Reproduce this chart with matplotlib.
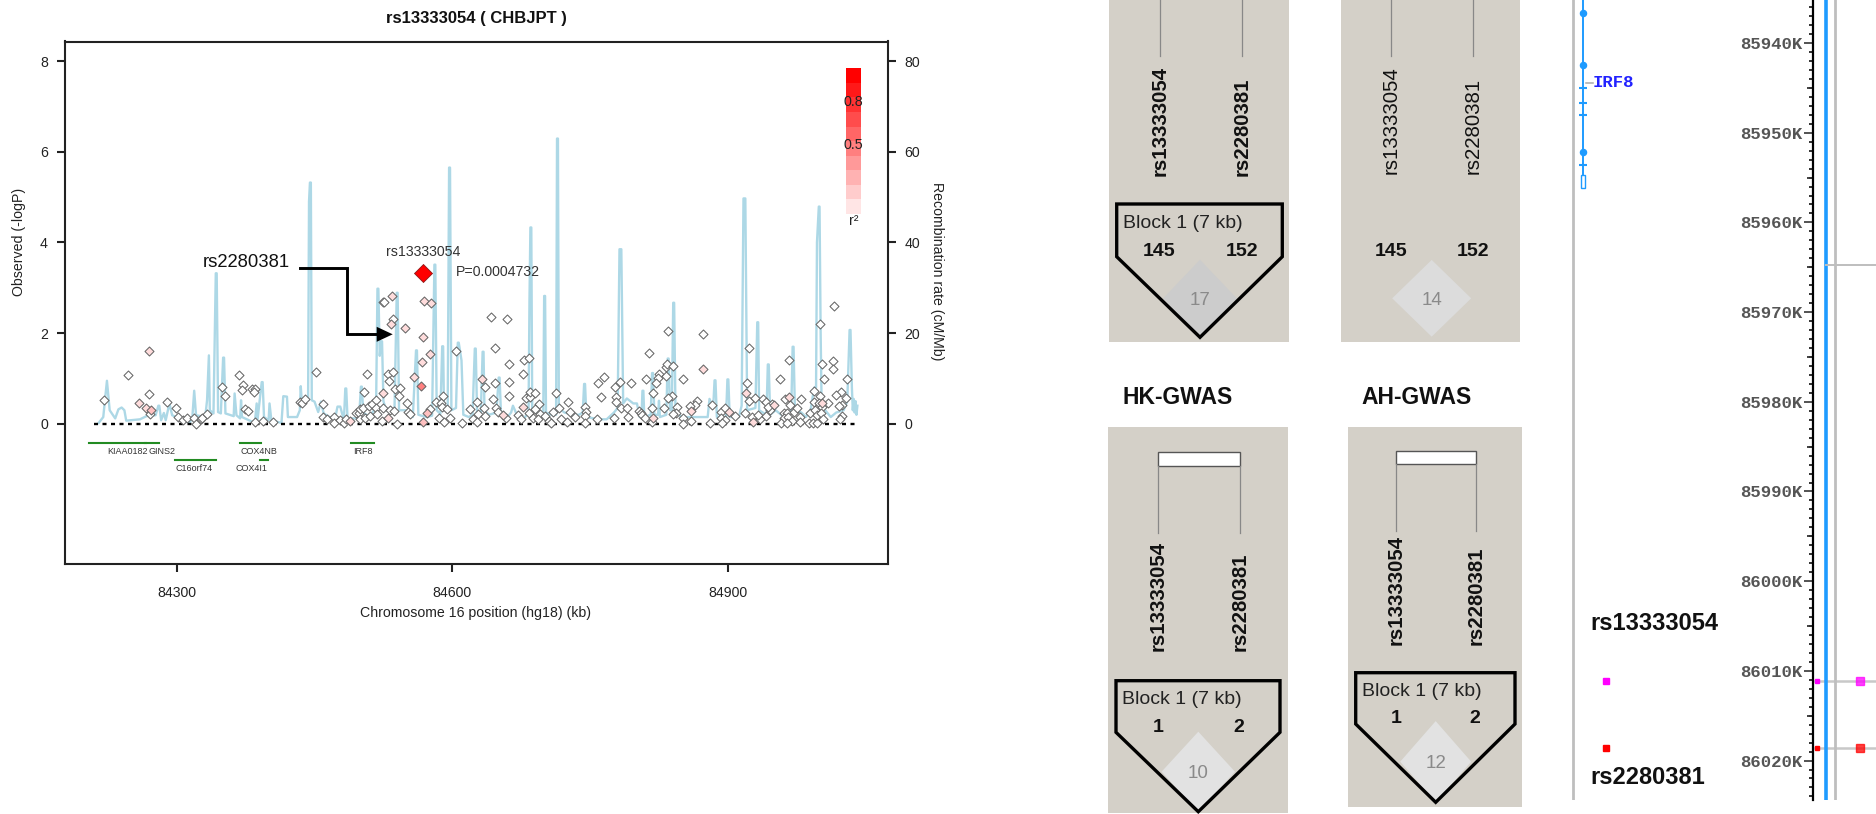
import matplotlib
matplotlib.use("Agg")
from matplotlib import pyplot as plt
from matplotlib.patches import Polygon, Rectangle

plt.rcParams["font.family"] = ["Liberation Sans", "DejaVu Sans"]

W, H = 1876, 814

# recombination rate track (kb, cM/Mb)
recomb_kb = [84215, 84220, 84224, 84227, 84233, 84236.5, 84240, 84243, 84245, 84260, 84267, 84277, 84280, 84281,
             84283, 84286, 84288, 84292, 84295, 84314, 84317, 84319, 84321, 84331, 84333, 84335, 84336, 84340,
             84342.5, 84343.5, 84345, 84348, 84350.5, 84351.5, 84353, 84362, 84363, 84365, 84369, 84370, 84371, 84385,
             84387, 84388, 84392.5, 84393.5, 84395, 84400, 84401, 84403, 84414, 84416, 84420, 84421, 84431, 84434,
             84435, 84436, 84443, 84444, 84445, 84446, 84447, 84450, 84454, 84457, 84460, 84472, 84475,
             84478, 84482, 84483.5, 84484.5, 84486, 84490, 84497, 84499, 84500.5, 84501.5, 84503, 84510, 84514, 84517,
             84518.5, 84519.5, 84521, 84522.5, 84523.5, 84525, 84528, 84533, 84537, 84539.5, 84540.5, 84542, 84550, 84557,
             84560.5, 84561.5, 84563, 84572, 84578, 84580.5, 84581.5, 84583, 84587, 84589, 84590, 84591, 84595, 84596.5,
             84597.5, 84599, 84604, 84606, 84607, 84610, 84612, 84618, 84622, 84624.5, 84625.5, 84627, 84631, 84633,
             84634, 84635, 84640, 84648, 84650.5, 84651.5, 84653, 84660, 84664, 84666, 84672, 84678, 84683, 84684,
             84685, 84686, 84687, 84695, 84699, 84700, 84701, 84702, 84708, 84713, 84714, 84715, 84716, 84722,
             84732, 84738, 84742, 84743.5, 84744.5, 84746, 84760, 84768, 84776, 84780, 84782, 84784, 84786, 84790,
             84797, 84801, 84804, 84806, 84807, 84808, 84809, 84816, 84817.5, 84818.5, 84820, 84824, 84825, 84826,
             84833, 84834.5, 84835.5, 84837, 84839, 84840.5, 84841.5, 84843, 84850, 84860, 84878, 84880, 84884, 84885.5,
             84886.5, 84888, 84898, 84899.5, 84900.5, 84902, 84912, 84915, 84917, 84919, 84921, 84930, 84932, 84933,
             84934, 84942, 84943.5, 84944.5, 84946, 84952, 84958, 84966, 84969, 84970.5, 84971.5, 84973, 84980, 84985,
             84990, 84994, 84996, 84997, 84999, 84999.8, 85001, 85002, 85006, 85012, 85018, 85026, 85030, 85032.5,
             85033.5, 85035, 85036, 85037, 85038, 85039, 85040, 85041]
recomb_rate = [0.2, 1.5, 9.5, 3.0, 1.2, 3.2, 3.6, 3.0, 0.7, 1.0, 1.7, 1.9, 4.0, 4.0,
               0.8, 2.4, 0.8, 4.5, 1.9, 0.2, 1.5, 7.3, 1.9, 1.5, 5.2, 15.1, 3.0, 2.3,
               33.2, 33.2, 2.6, 2.3, 14.6, 14.6, 2.3, 1.7, 6.7, 1.9, 1.2, 5.2, 1.5, 0.2,
               4.5, 1.0, 9.2, 9.2, 1.5, 0.8, 4.5, 0.8, 0.2, 6.1, 6.0, 1.5, 1.5, 3.0,
               8.3, 5.2, 5.2, 49.0, 53.2, 53.2, 5.2, 4.9, 2.6, 4.9, 2.3, 0.8, 3.8,
               3.8, 0.8, 7.8, 7.8, 0.8, 1.2, 1.2, 3.0, 8.2, 8.2, 2.5, 1.5, 2.8, 3.5,
               29.8, 29.8, 15.0, 18.2, 18.2, 5.0, 3.0, 3.5, 2.5, 28.9, 28.9, 3.0, 3.0, 1.5,
               16.2, 16.2, 2.0, 1.5, 1.8, 35.1, 35.1, 3.0, 2.2, 17.1, 17.1, 3.0, 4.0, 56.5,
               56.5, 3.0, 3.5, 17.9, 17.9, 14.0, 2.0, 1.5, 2.0, 16.6, 16.6, 2.0, 2.0, 15.9,
               15.9, 3.0, 2.0, 2.5, 10.2, 10.2, 2.0, 1.5, 2.5, 4.0, 1.2, 1.2, 2.5, 27.0,
               43.3, 43.3, 3.0, 2.0, 2.0, 28.2, 28.2, 2.5, 2.0, 2.0, 62.9, 62.9, 3.5, 2.5,
               2.0, 2.0, 2.5, 8.8, 8.8, 1.5, 1.0, 1.0, 2.5, 3.5, 38.5, 38.5, 4.5, 5.6,
               4.5, 4.5, 1.5, 1.5, 7.3, 7.3, 1.5, 2.0, 11.2, 11.2, 2.0, 2.0, 5.1, 1.5,
               2.0, 14.4, 14.4, 3.0, 3.0, 26.7, 26.7, 2.5, 1.5, 1.5, 1.5, 5.5, 3.5, 9.6,
               9.6, 1.5, 1.5, 9.8, 9.8, 1.5, 1.5, 4.0, 49.7, 49.7, 3.0, 3.5, 22.4, 22.4,
               3.0, 2.0, 13.1, 13.1, 2.0, 3.0, 2.0, 2.5, 3.0, 17.0, 17.0, 3.0, 2.5, 1.5,
               3.0, 8.0, 8.0, 40.0, 47.9, 47.9, 20.0, 5.0, 3.0, 1.5, 2.5, 3.0, 5.0, 20.7,
               20.7, 8.0, 3.0, 5.5, 2.5, 5.0, 2.0, 4.0]

# SNPs by r2 group
white_kb = [84221, 84247, 84270, 84271, 84289, 84299, 84301, 84307, 84311, 84319, 84321, 84326, 84328, 84333,
            84349, 84353, 84368, 84372, 84371, 84382, 84385, 84384, 84374, 84378, 84385, 84394, 84405, 84434,
            84436, 84440, 84452, 84459, 84459, 84464, 84471, 84471, 84478, 84482, 84484, 84495, 84498, 84499,
            84503, 84500, 84505, 84510, 84509, 84513, 84517, 84517, 84518, 84523, 84524, 84504, 84507,
            84524, 84526, 84535, 84530, 84535, 84531, 84538, 84543, 84542, 84551, 84532, 84536, 84552, 84554,
            84540, 84576, 84582, 84590, 84588, 84589, 84594, 84585, 84591, 84597, 84611, 84604, 84642, 84659,
            84647, 84662, 84678, 84683, 84677, 84636, 84646, 84662, 84662, 84644, 84627, 84619, 84634, 84648,
            84650, 84628, 84636, 84622, 84627, 84658, 84672, 84675, 84680, 84685, 84685, 84690, 84694, 84690,
            84684, 84688, 84696, 84693, 84701, 84705, 84707, 84710, 84713, 84716, 84718, 84725, 84726, 84728,
            84734, 84745, 84746, 84745, 84745, 84757, 84759, 84765, 84762, 84777, 84783, 84795, 84778, 84778,
            84784, 84790, 84776, 84791, 84803, 84805, 84806, 84810, 84814, 84811, 84835, 84833, 84834, 84840,
            84825, 84824, 84822, 84833, 84818, 84851, 84839, 84835, 84817, 84831, 84817, 84845, 84843, 84840,
            84851, 84851, 84860, 84866, 84864, 84859, 84873, 84883, 84881, 84893, 84897, 84893, 84897, 84894,
            84908, 84923, 84921, 84923, 84929, 84919, 84926, 84935, 84933, 84941, 84938, 84941, 84948, 84946,
            84944, 84967, 84957, 84962, 84968, 84961, 84964, 84972, 84975, 84980, 84961, 84966, 84970, 84958,
            84964, 84979, 84978, 84989, 84988, 84993, 84997, 84994, 85000, 84994, 84999, 84995, 84997, 85002,
            85001, 85009, 85004, 85000, 85015, 85014, 85002, 85014, 85005, 85030, 85023, 85018, 85029, 85024,
            85021, 85024, 85022]
white_logp = [0.52, 1.07, 0.65, 0.21, 0.49, 0.35, 0.15, 0.08, 0.125, 0.125, 0.0, 0.10, 0.125, 0.21,
              0.82, 0.62, 1.07, 0.85, 0.74, 0.76, 0.77, 0.71, 0.32, 0.29, 0.04, 0.07, 0.04, 0.49,
              0.47, 0.55, 1.14, 0.44, 0.15, 0.10, 0.15, 0.01, 0.08, 0.01, 0.10, 0.23, 0.23, 0.32,
              0.34, 0.10, 0.14, 0.17, 0.40, 0.43, 0.52, 0.34, 0.21, 0.07, 0.34, 0.71, 1.10,
              2.68, 2.68, 2.32, 1.10, 1.14, 0.95, 0.77, 0.80, 0.61, 0.45, 0.30, 0.28, 0.26, 0.21,
              0.0, 0.32, 0.49, 0.62, 0.45, 0.375, 0.33, 0.13, 0.04, 0.12, 0.02, 1.60, 2.36, 2.32,
              1.68, 1.31, 1.40, 1.46, 1.10, 0.82, 0.90, 0.93, 0.62, 0.54, 0.48, 0.33, 0.36, 0.35,
              0.26, 0.21, 0.18, 0.10, 0.04, 0.12, 0.19, 0.10, 0.56, 0.60, 0.71, 0.68, 0.43, 0.32,
              0.24, 0.14, 0.21, 0.10, 0.17, 0.07, 0.01, 0.26, 0.68, 0.35, 0.10, 0.04, 0.48, 0.26,
              0.15, 0.375, 0.26, 0.17, 0.01, 0.10, 0.91, 1.04, 0.60, 0.81, 0.92, 0.91, 0.60, 0.49,
              0.36, 0.35, 0.14, 0.15, 0.28, 0.23, 0.19, 0.14, 1.57, 0.99, 2.04, 1.26, 1.31, 1.27,
              1.10, 1.00, 0.89, 1.05, 0.68, 0.99, 0.62, 0.57, 0.35, 0.35, 0.04, 0.375, 0.23, 0.21,
              0.12, 0.0, 0.07, 0.51, 0.41, 0.39, 1.99, 0.42, 0.01, 0.26, 0.36, 0.14, 0.08, 0.01,
              0.18, 1.68, 0.91, 0.51, 0.57, 0.23, 0.15, 0.10, 0.19, 0.18, 0.54, 0.49, 0.43, 0.30,
              0.375, 1.41, 0.98, 0.54, 0.41, 0.24, 0.24, 0.26, 0.34, 0.54, 0.14, 0.15, 0.07, 0.01,
              0.01, 0.15, 0.04, 0.25, 0.02, 0.02, 0.02, 0.73, 0.61, 0.49, 0.46, 0.30, 0.19, 0.375,
              0.23, 0.45, 0.10, 2.20, 2.59, 1.39, 1.31, 1.20, 0.99, 0.98, 0.71, 0.63, 0.56, 0.41,
              0.39, 0.17, 0.10]
pale_kb = [84270, 84259, 84267, 84489, 84524, 84534, 84533, 84549, 84569, 84577, 84568, 84576, 84567, 84558,
           84530, 84632, 84655, 84677, 84819, 84873, 84860, 84901, 84920, 84927, 84950, 84967, 85002]
pale_logp = [1.60, 0.47, 0.35, 0.06, 0.68, 2.82, 2.21, 2.11, 2.71, 2.67, 1.92, 1.54, 1.37, 1.04,
             0.14, 0.99, 0.19, 0.375, 0.13, 1.20, 0.28, 0.26, 0.69, 0.04, 0.41, 0.60, 0.46]
mid_kb = [84272, 84572, 84568]
mid_logp = [0.30, 0.25, 0.03]
strong_kb = [84566]
strong_logp = [0.83]
lead_kb = [84568.5]
lead_logp = [3.32]

# genes: name, start, end, row, label centre
gene_names = ["KIAA0182", "GINS2", "C16orf74", "COX4NB", "COX4I1", "IRF8"]
gene_start = [84204, 84265.5, 84298, 84369, 84391, 84490]
gene_end = [84267, 84281, 84343, 84391.5, 84399, 84515]
gene_row = [0, 0, 1, 0, 1, 0]
gene_label_kb = [84246, 84284, 84319, 84390, 84381, 84503]

legend_reds = ["#FFE5E5", "#FFCCCC", "#FFB2B2", "#FF9999", "#FF7F7F",
               "#FF6666", "#FF4C4C", "#FF3333", "#FF1919", "#FF0000"]

# right hand genome browser track (K)
track_ticks_major = [85940, 85950, 85960, 85970, 85980, 85990, 86000, 86010, 86020]
irf8_exons_big = [85936.6, 85942.5, 85952.2]
irf8_exons_small = [85945.0, 85946.7, 85948.0, 85953.6]
track_snps = [86011.1, 86018.6]
track_snp_colors = ["#FF00FF", "#FF0000"]

fig = plt.figure(figsize=(W / 100, H / 100), dpi=100, facecolor="white")


def px_axes(x0, y0, x1, y1, **kw):
    return fig.add_axes([x0 / W, 1 - y1 / H, (x1 - x0) / W, (y1 - y0) / H], **kw)


# association plot
ax = px_axes(64.5, 41.5, 887.7, 564)
ax.plot(recomb_kb, [r / 10 for r in recomb_rate], color="#ADD8E6", lw=1.7, zorder=1)
ax.plot([84210, 85040], [0, 0], color="black", lw=1.7, ls=(0, (1.7, 1.9)), zorder=2)

snp_kw = dict(marker="D", s=21, edgecolors="#666666", linewidths=0.75, zorder=3)
ax.scatter(white_kb, white_logp, facecolors="white", **snp_kw)
ax.scatter(pale_kb, pale_logp, facecolors="#FFDCDC", **snp_kw)
ax.scatter(mid_kb, mid_logp, facecolors="#FFC0C0", **snp_kw)
ax.scatter(strong_kb, strong_logp, facecolors="#FF8080", **snp_kw)
ax.scatter(lead_kb, lead_logp, marker="D", s=84, facecolors="#FF0000", edgecolors="#8B1A1A", linewidths=0.6, zorder=4)

for name, a, b, row, lab in zip(gene_names, gene_start, gene_end, gene_row, gene_label_kb):
    y = -0.43 - 0.37 * row
    ax.plot([a, b], [y, y], color="#228B22", lw=1.5, zorder=2)
    ax.text(lab, y - 0.185, name, fontsize=6.5, ha="center", va="center", color="#333333")

bin_h = (7.84 - 4.625) / len(legend_reds)
for i, c in enumerate(legend_reds):
    ax.add_patch(Rectangle((85028.5, 4.625 + i * bin_h), 16.5, bin_h, facecolor=c, edgecolor="none", zorder=2))
ax.text(85036.8, 7.10, "0.8", fontsize=10.3, ha="center", va="center", color="#222222", zorder=5)
ax.text(85036.8, 6.15, "0.5", fontsize=10.3, ha="center", va="center", color="#222222", zorder=5)
ax.text(85036.8, 4.47, "r²", fontsize=10.3, ha="center", va="center", color="#222222", zorder=5)

ax.set_xlim(84177.8, 85074)
ax.set_ylim(-3.09, 8.43)
ax.set_xticks([84300, 84600, 84900])
ax.set_yticks([0, 2, 4, 6, 8])
ax.tick_params(length=6, width=1.5, labelsize=10.2, pad=6, colors="#222222")
ax.tick_params(axis="x", pad=10)
for s in ax.spines.values():
    s.set_linewidth(1.5)
    s.set_color("#222222")

rax = ax.twinx()
rax.set_ylim(-30.9, 84.3)
rax.set_yticks([0, 20, 40, 60, 80])
rax.tick_params(length=6, width=1.5, labelsize=10.2, pad=6, colors="#222222")
for s in rax.spines.values():
    s.set_visible(False)

# genome browser track
track = px_axes(1560, 0, 1876, 800)
track.patch.set_alpha(0)
track.set_xlim(1560, 1876)
track.set_ylim(86024.4, 85935.2)
for side in ["top", "right", "bottom"]:
    track.spines[side].set_visible(False)
track.spines["left"].set_position(("data", 1812.7))
track.spines["left"].set_linewidth(1.6)
track.xaxis.set_visible(False)
track.set_yticks(track_ticks_major)
track.set_yticklabels([f"{t}K" for t in track_ticks_major], family="Liberation Mono", fontweight="bold",
                      fontsize=12.5, color="#555555")
track.tick_params(axis="y", length=6.5, width=1.3, pad=1, color="#444444")
track.set_yticks([t for t in range(85936, 86025) if t % 10 != 0], minor=True)
track.tick_params(axis="y", which="minor", length=3, width=1.3, color="#222222")
for t in range(85945, 86025, 10):
    track.plot([1806.5, 1812.7], [t, t], color="#333333", lw=1.3, solid_capstyle="butt")

track.axvline(1826, color="#1E9BFF", lw=2.6)
track.axvline(1835, color="#BEBEBE", lw=2)
track.axvline(1572.7, color="#BEBEBE", lw=2)
track.plot([1826, 1876], [85964.7, 85964.7], color="#BEBEBE", lw=1.4)
track.plot([1583, 1583], [85935.2, 85954.7], color="#1E9BFF", lw=1.4)
track.plot([1583] * 3, irf8_exons_big, ls="none", marker="o", ms=4.4, color="#1E9BFF")
track.plot([1583] * 4, irf8_exons_small, ls="none", marker="_", ms=5.5, mew=1.5, color="#1E9BFF")
track.add_patch(Rectangle((1580.7, 85954.7), 4.6, 1.5, facecolor="white", edgecolor="#1E9BFF", lw=1))
track.plot([1586, 1593], [85944.4, 85944.4], color="#AAAAAA", lw=1.1)
track.text(1593, 85944.4, "IRF8", family="Liberation Mono", fontweight="bold", fontsize=12.5, color="#2222FF",
           va="center", ha="left")
for pos, c in zip(track_snps, track_snp_colors):
    track.plot([1815, 1876], [pos, pos], color="#C8C8C8", lw=1.8, zorder=1)
    track.plot([1817], [pos], marker="s", ms=2.2, color=c, ls="none")
    track.plot([1860], [pos], marker="s", ms=6, color=c, alpha=0.75, ls="none")
    track.plot([1605.7], [pos], marker="s", ms=4.5, color=c, ls="none")

# overlay in pixels for panels and call-outs
ov = px_axes(0, 0, W, H, zorder=10)
ov.set_xlim(0, W)
ov.set_ylim(H, 0)
ov.axis("off")
ov.patch.set_alpha(0)

ov.text(476, 18.7, "rs13333054 ( CHBJPT )", fontsize=12, fontweight="bold", ha="center", va="center", color="#111111")
ov.text(18.7, 242, "Observed (-logP)", fontsize=10.2, rotation=90, ha="center", va="center", color="#222222")
ov.text(936.7, 271.5, "Recombination rate (cM/Mb)", fontsize=10.2, rotation=-90, ha="center", va="center", color="#222222")
ov.text(476, 613, "Chromosome 16 position (hg18) (kb)", fontsize=10.2, ha="center", va="center", color="#222222")
ov.text(423.3, 252.3, "rs13333054", fontsize=10.2, ha="center", va="center", color="#333333")
ov.text(455.7, 271.7, "P=0.0004732", fontsize=10.2, ha="left", va="center", color="#333333")
ov.text(202.7, 262.3, "rs2280381", fontsize=13.3, ha="left", va="center", color="#111111")
ov.plot([300, 347, 347, 378], [267.7, 267.7, 334.3, 334.3], color="black", lw=2.1, solid_joinstyle="miter")
ov.add_patch(Polygon([(376.7, 326.8), (392.7, 334.3), (376.7, 341.8)], facecolor="black", edgecolor="none"))


def panel(x0, x1, y0, y1, lx1, lx2, lbot, line_top, line_bot, bold, box=None):
    ov.add_patch(Rectangle((x0, y0), x1 - x0, y1 - y0, facecolor="#D4D0C8", edgecolor="none"))
    ov.plot([lx1, lx1], [line_top, line_bot], color="#888888", lw=0.9)
    ov.plot([lx2, lx2], [line_top, line_bot], color="#888888", lw=0.9)
    if box:
        ov.add_patch(Rectangle((lx1, box[0]), lx2 - lx1, box[1] - box[0], facecolor="white",
                               edgecolor="#555555", lw=1))
    w = "bold" if bold else "normal"
    ov.text(lx1, lbot, "rs13333054", rotation=90, fontsize=14.7, fontweight=w, ha="center", va="bottom", color="#111111")
    ov.text(lx2, lbot, "rs2280381", rotation=90, fontsize=14.7, fontweight=w, ha="center", va="bottom", color="#111111")


def block(xl, xr, xm, top, shoulder, tip, dx, dy, dcol, dtext, tx, ty, n1, n2, ny, n1x, n2x, outline=True):
    ov.add_patch(Polygon([(xm, dy - (tip - dy)), (xm - dx, dy), (xm, tip), (xm + dx, dy)],
                         facecolor=dcol, edgecolor="none"))
    ov.text(xm, dy + 2, dtext, fontsize=13.5, color="#8A8A8A", ha="center", va="center")
    if outline:
        ov.add_patch(Polygon([(xl, top), (xr, top), (xr, shoulder), (xm, tip), (xl, shoulder)],
                             facecolor="none", edgecolor="black", lw=2.4, joinstyle="miter"))
        ov.text(tx, ty, "Block 1 (7 kb)", fontsize=14, ha="left", va="center", color="#222222")
    ov.text(n1x, ny, n1, fontsize=14, fontweight="bold", ha="center", va="center", color="#111111")
    ov.text(n2x, ny, n2, fontsize=14, fontweight="bold", ha="center", va="center", color="#111111")


panel(1109, 1288.7, 0, 341.7, 1159.7, 1242, 176, 0, 56, True)
block(1116.7, 1282.3, 1200, 204, 256.7, 337.3, 37, 298.5, "#CCCCCC", "17", 1123, 223, "145", "152", 251, 1159.3, 1242)

panel(1341, 1520, 0, 341.7, 1391, 1473, 174, 0, 56, False)
block(0, 0, 1431.7, 0, 0, 336.7, 39.5, 298.3, "#DCDCDC", "14", 0, 0, "145", "152", 251, 1391, 1473, outline=False)

panel(1108, 1287.7, 426.7, 813.3, 1157.7, 1239.7, 651, 465.7, 533.3, True, box=(451.7, 465.7))
block(1116, 1280, 1198.3, 680.7, 732.3, 811.7, 36.7, 771.7, "#E2E2E2", "10", 1121.7, 699.3, "1", "2", 727.3, 1157.7, 1239)

panel(1348.3, 1522.3, 426.7, 806.7, 1396, 1475.7, 645, 464.3, 530.7, True, box=(450.7, 464.3))
block(1355.7, 1515, 1435.7, 672.7, 724, 802.3, 35.5, 761.7, "#E2E2E2", "12", 1361.7, 691.7, "1", "2", 718.3, 1395.7, 1474.3)

ov.text(1122, 398, "HK-GWAS", fontsize=16.5, fontweight="bold", ha="left", va="center", color="#111111")
ov.text(1361.7, 398, "AH-GWAS", fontsize=16.5, fontweight="bold", ha="left", va="center", color="#111111")
ov.text(1590, 624, "rs13333054", fontsize=17, fontweight="bold", ha="left", va="center", color="#111111")
ov.text(1590, 777.7, "rs2280381", fontsize=17, fontweight="bold", ha="left", va="center", color="#111111")

fig.savefig("out.png", dpi=100)
